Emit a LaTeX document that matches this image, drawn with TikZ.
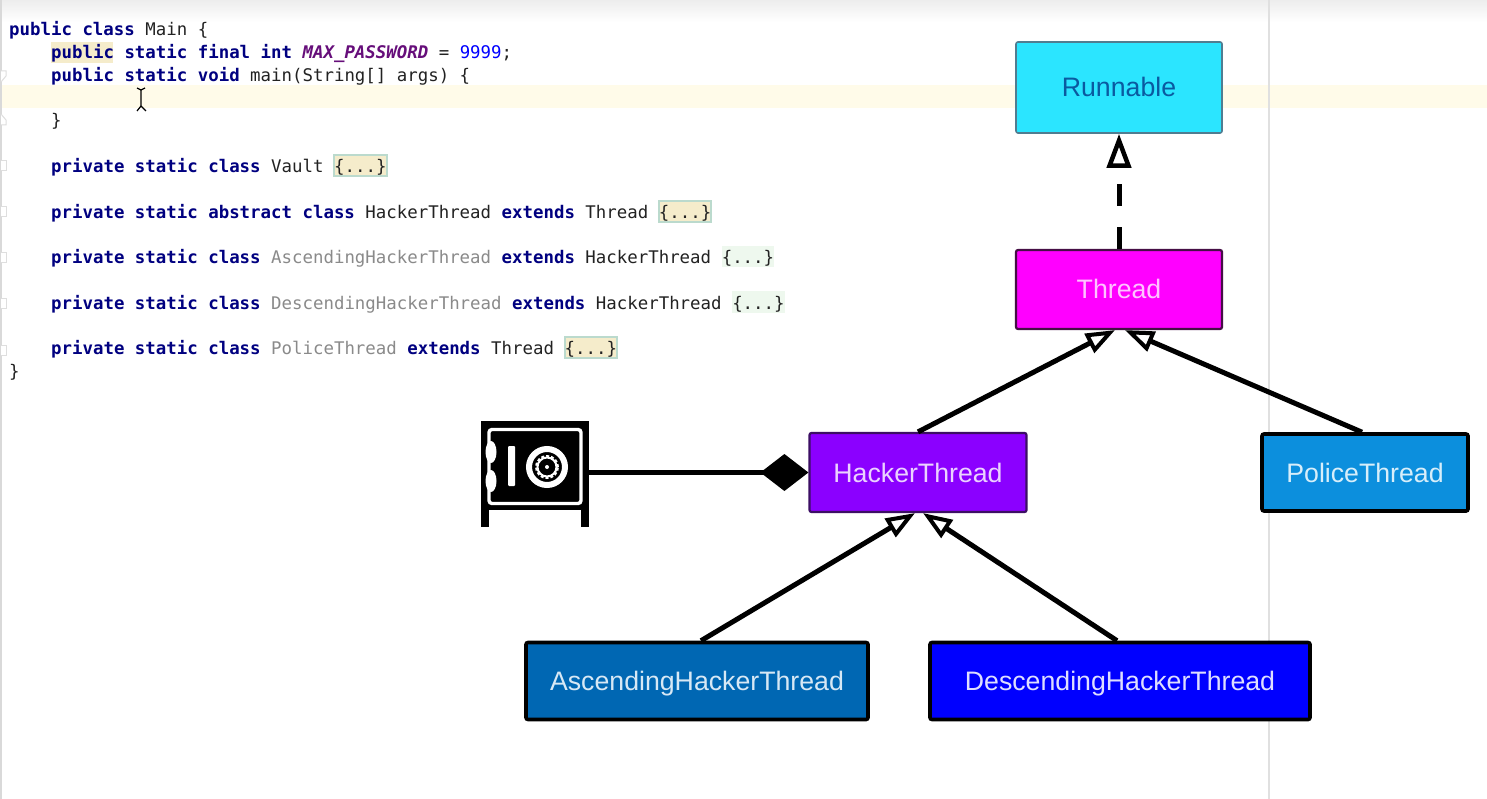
\documentclass[tikz,border=0pt]{standalone}
\usepackage{fontspec}
\setmainfont{Liberation Sans}
\newfontfamily\codefont{DejaVu Sans Mono}
\usetikzlibrary{positioning,arrows.meta,calc}
\definecolor{kwblue}{HTML}{000080}
\definecolor{fieldpurple}{HTML}{660E7A}
\definecolor{numblue}{HTML}{0000FF}
\definecolor{unusedgray}{HTML}{8A8A8A}
\definecolor{codeblack}{HTML}{222222}
\definecolor{linebar}{HTML}{FFFBE9}
\definecolor{matchbg}{HTML}{F5ECCB}
\definecolor{foldedge}{HTML}{BBDACD}
\definecolor{foldpale}{HTML}{EEF8EE}
\newcommand{\kw}[1]{\textcolor{kwblue}{\bfseries #1}}
\newcommand{\unused}[1]{\textcolor{unusedgray}{#1}}
\tikzset{
	codeline/.style={anchor=base west, inner sep=0pt, text=codeblack, font=\codefont\fontsize{17.4}{20}\selectfont},
	foldtext/.style={codeline, anchor=base, inner xsep=0pt, inner ysep=1pt, outer sep=0pt, text height=17pt, text depth=2.5pt},
	foldmark/.style={foldtext, fill=matchbg, draw=foldedge, line width=2pt},
	foldpalemark/.style={foldtext, fill=foldpale},
	classbox/.style={rectangle, rounded corners=2pt, inner sep=0pt, text height=19pt, text depth=0pt, font=\fontsize{26.7}{30}\selectfont},
	umlline/.style={line width=5pt, black, line cap=butt},
	openhead/.style={-{Triangle[open, length=29pt, width=21pt, line width=4pt]}},
	bighead/.style={-{Triangle[open, length=34pt, width=24pt, line width=4.5pt]}},
}
\begin{document}
\begin{tikzpicture}[x=1pt, y=-1pt]
		\useasboundingbox (0,0) rectangle (1487,799);
		\fill[white] (0,0) rectangle (1487,799);
		\shade[top color=black!7, bottom color=white] (0,0) rectangle (1487,22);
		\fill[linebar] (0,85) rectangle (1487,108);
		\draw[black!12, line width=1.2pt] (1269,0)--(1269,799);
		\draw[black!15, line width=1.2pt] (1,0)--(1,799);
		\foreach \y in {166,212,258,304,350}
			\draw[black!13, line width=1pt, fill=white] (1,\y-5)--(6,\y-5)--(6,\y+5)--(1,\y+5);
		\draw[black!13, line width=1pt, fill=white] (1,71)--(6,71)--(6,76)--(1,82);
		\draw[black!13, line width=1pt, fill=white] (1,114)--(6,120)--(6,125)--(1,125);

		\fill[matchbg] (51,42) rectangle (113,63);
		\node[codeline] (mainline) at (9,36) {\kw{public class} Main \{};
		\node[codeline] (fieldline) at (51,59) {\kw{public static final int} \textcolor{fieldpurple}{\bfseries\itshape MAX\_PASSWORD} = \textcolor{numblue}{9999};};
		\node[codeline] (methodline) at (51,82) {\kw{public static void} main(String[] args) \{};
		\node[codeline] (methodend) at (51,127) {\}};
		\node[codeline] (vaultline) at (51,173) {\kw{private static class} Vault};
		\node[codeline] (hackerline) at (51,219) {\kw{private static abstract class} HackerThread \kw{extends} Thread};
		\node[codeline] (ascline) at (51,264) {\kw{private static class} \unused{AscendingHackerThread} \kw{extends} HackerThread};
		\node[codeline] (descline) at (51,309.5) {\kw{private static class} \unused{DescendingHackerThread} \kw{extends} HackerThread};
		\node[codeline] (policeline) at (51,354.5) {\kw{private static class} \unused{PoliceThread} \kw{extends} Thread};
		\node[codeline] (mainend) at (9,377) {\}};

		\node[foldmark, base right=10.4pt of vaultline] (vaultfold) {\{...\}};
		\node[foldmark, base right=10.4pt of hackerline] (hackerfold) {\{...\}};
		\node[foldpalemark, base right=10.4pt of ascline] (ascfold) {\{...\}};
		\node[foldpalemark, base right=10.4pt of descline] (descfold) {\{...\}};
		\node[foldmark, base right=10.4pt of policeline] (policefold) {\{...\}};

		\draw[black, line width=1.2pt] (137,88)--(141,90)--(145,88) (141,90)--(141,106)--(137,111) (141,106)--(146,111);

		\node[classbox, fill={rgb,255:red,43;green,229;blue,255}, draw={rgb,255:red,80;green,125;blue,145}, line width=1.6pt, text={rgb,255:red,10;green,90;blue,160}, minimum width=206pt, minimum height=91pt] (runnable) at (1119,87.5) {Runnable};
		\node[classbox, fill={rgb,255:red,255;green,0;blue,255}, draw={rgb,255:red,70;green,15;blue,70}, line width=2.2pt, text={rgb,255:red,255;green,195;blue,255}, minimum width=206pt, minimum height=79pt] (thread) at (1119,289.5) {Thread};
		\node[classbox, fill={rgb,255:red,139;green,0;blue,255}, draw={rgb,255:red,60;green,15;blue,100}, line width=2.2pt, text={rgb,255:red,235;green,210;blue,255}, minimum width=217pt, minimum height=79pt] (hacker) at (918,472.5) {HackerThread};
		\node[classbox, fill={rgb,255:red,12;green,143;blue,221}, draw=black, line width=3.6pt, text={rgb,255:red,215;green,238;blue,250}, minimum width=206pt, minimum height=77pt] (police) at (1365,472.5) {PoliceThread};
		\node[classbox, fill={rgb,255:red,0;green,103;blue,179}, draw=black, line width=3.6pt, text={rgb,255:red,215;green,232;blue,245}, minimum width=342pt, minimum height=77pt] (ascending) at (697,681) {AscendingHackerThread};
		\node[classbox, fill={rgb,255:red,0;green,0;blue,255}, draw=black, line width=3.6pt, text={rgb,255:red,222;green,222;blue,255}, minimum width=380pt, minimum height=77pt] (descending) at (1120,681) {DescendingHackerThread};

		\node[rectangle, fill=black, inner sep=0pt, minimum width=108pt, minimum height=89pt] (vault) at (535,465.5) {};
		\fill[black] (481,505) rectangle (489,527);
		\fill[black] (581,505) rectangle (589,527);
		\draw[white, line width=3.4pt, rounded corners=3pt] (489,429.5) rectangle (581,503.5);
		\fill[white] (491,452) ellipse (5.5pt and 11pt);
		\fill[white] (491,481) ellipse (5.5pt and 11pt);
		\fill[white, rounded corners=1pt] (508,446) rectangle (515,486);
		\draw[white, line width=6pt] (547,467) circle (18pt);
		\draw[white, line width=2pt, dash pattern=on 3pt off 2pt] (547,467) circle (11pt);
		\draw[white, line width=2pt] (547,467) circle (9.5pt);
		\fill[white] (547,467) circle (2pt);

		\draw[umlline, -{Diamond[length=48pt, width=37pt]}] (vault.east |- hacker.west)--(hacker.west);
		\draw[umlline, bighead, dash pattern=on 22pt off 21pt] (thread.north)--(runnable.south);
		\draw[umlline, openhead] (hacker.north)--([xshift=-4pt]thread.south);
		\draw[umlline, openhead] ([xshift=-3pt]police.north)--([xshift=6pt]thread.south);
		\draw[umlline, openhead] ([xshift=4pt]ascending.north)--([xshift=-3pt]hacker.south);
		\draw[umlline, openhead] ([xshift=-3pt]descending.north)--([xshift=5pt]hacker.south);
		\end{tikzpicture}
\end{document}
